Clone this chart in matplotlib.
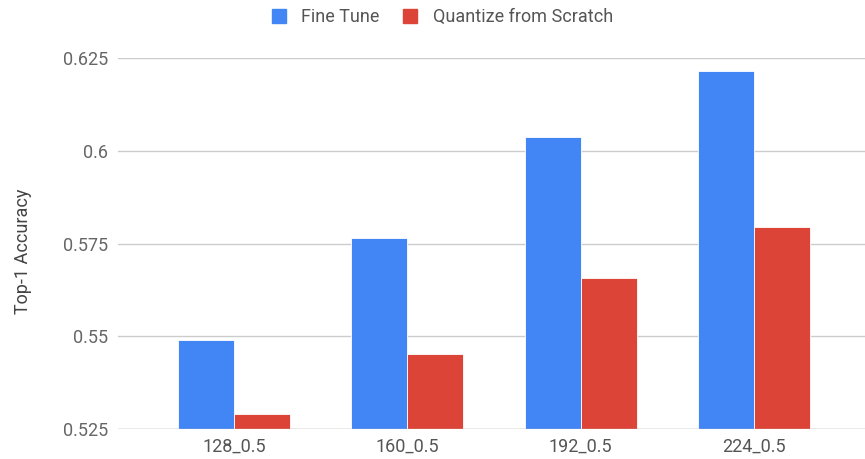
import matplotlib
matplotlib.use("Agg")
import matplotlib.pyplot as plt
import numpy as np
from matplotlib.lines import Line2D

categories = ["128_0.5", "160_0.5", "192_0.5", "224_0.5"]
fine_tune = [0.5490, 0.5765, 0.6037, 0.6216]
quantize_scratch = [0.5290, 0.5452, 0.5658, 0.5796]
series_names = ["Fine Tune", "Quantize from Scratch"]
y_ticks = [0.525, 0.55, 0.575, 0.6, 0.625]
y_tick_labels = ["0.525", "0.55", "0.575", "0.6", "0.625"]

blue = "#4285F4"
red = "#DB4437"

plt.rcParams['font.family'] = ['Roboto', 'DejaVu Sans']

fig = plt.figure(figsize=(8.65, 4.59), dpi=100)
ax = fig.add_axes([118/865, 1 - 429.3/459, 1 - 118/865, (429.3 - 58)/459])

x = np.arange(len(categories))
w = 0.323
ax.bar(x - w/2, fine_tune, width=w, color=blue, edgecolor="white", linewidth=0.6, zorder=3,
       label=series_names[0])
ax.bar(x + w/2, quantize_scratch, width=w, color=red, edgecolor="white", linewidth=0.6, zorder=3,
       label=series_names[1])

ax.set_ylim(0.525, 0.625)
ax.set_xlim(-0.669, 3.64)
ax.set_yticks(y_ticks)
ax.set_yticklabels(y_tick_labels)
ax.set_xticks(x)
ax.set_xticklabels(categories)
ax.grid(axis='y', color="#cccccc", linewidth=1, zorder=0)
ax.set_axisbelow(True)
for s in ax.spines.values():
    s.set_visible(False)
ax.tick_params(axis='both', length=0, labelsize=13)
ax.tick_params(axis='y', pad=7, labelcolor="#666666")
ax.tick_params(axis='x', pad=6, labelcolor="#555555")
ax.axhline(0.525, color="#bbbbbb", linewidth=1, zorder=4)
ax.set_ylabel("Top-1 Accuracy", fontsize=13, color="#444444")
ax.yaxis.set_label_coords(-0.115, 0.48)

handles = [Line2D([0], [0], marker='s', linestyle='none', markersize=10.5,
                  markerfacecolor=blue, markeredgecolor=blue),
           Line2D([0], [0], marker='s', linestyle='none', markersize=10.5,
                  markerfacecolor=red, markeredgecolor=red)]
leg = fig.legend(handles, series_names, loc='center', bbox_to_anchor=(441.5/865, 1 - 17/459),
                 ncol=2, frameon=False, fontsize=13, handletextpad=0.75, columnspacing=1.2,
                 handlelength=1.0)
for t in leg.get_texts():
    t.set_color("#555555")

fig.savefig("out.png", dpi=100)
